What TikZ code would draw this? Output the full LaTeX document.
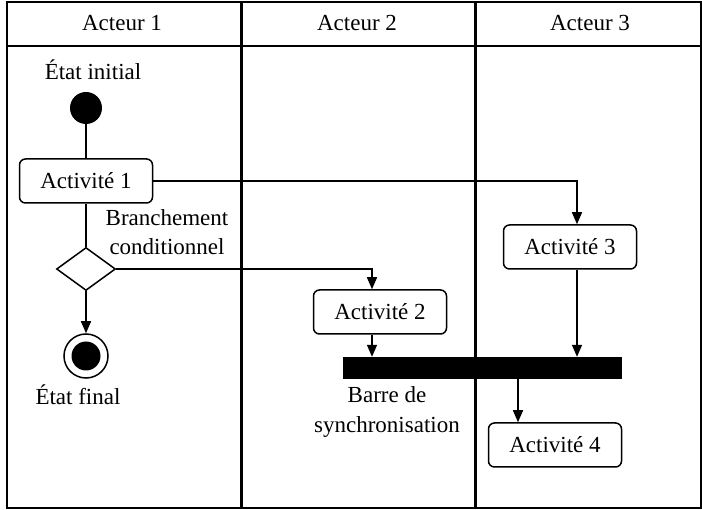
\documentclass[tikz,border=0pt]{standalone}
\usepackage{fontspec}
\setmainfont{Liberation Serif}
\usetikzlibrary{arrows.meta,shapes.geometric}
\begin{document}
\begin{tikzpicture}[
    x=1pt,
    y=-1pt,
    >={Triangle[length=12pt,width=10pt]},
    font=\fontsize{23}{29}\selectfont,
    activite/.style={draw,line width=1.5pt,rounded corners=6pt,
        minimum width=133pt,minimum height=44pt,inner sep=0pt},
    fleche/.style={line width=1.5pt,->},
    lien/.style={line width=1.5pt},
    couloir/.style={line width=3pt},
    cadre/.style={line width=2pt}
]
    \useasboundingbox (0,0) rectangle (702,510);

    % couloirs
    \draw[cadre] (7,2) rectangle (700.5,508);
    \draw[line width=1.5pt] (7,46) -- (700.5,46);
    \draw[couloir] (241,2) -- (241,508);
    \draw[couloir] (475,2) -- (475,508);
    \node (acteur1) at (122,23) {Acteur 1};
    \node (acteur2) at (357,23) {Acteur 2};
    \node (acteur3) at (590,23) {Acteur 3};

    % noeuds
    \node (lbinit) at (93,70) {État initial};
    \node[circle,fill=black,minimum size=32pt,inner sep=0pt] (init) at (86,108) {};
    \node[activite] (act1) at (86,181) {Activité 1};
    \node[draw,diamond,line width=1.5pt,minimum width=59pt,minimum height=43pt,
        inner sep=0pt] (branche) at (86,269) {};
    \node[align=center] (lbbranche) at (167,232) {Branchement\\conditionnel};
    \node[circle,draw,line width=1.5pt,minimum size=44pt,inner sep=0pt,
        path picture={\fill (path picture bounding box.center) circle (14.5);}]
        (fin) at (86,356) {};
    \node (lbfin) at (78,395) {État final};
    \node[activite] (act2) at (380,312) {Activité 2};
    \node[activite] (act3) at (570,247) {Activité 3};
    \node[fill=black,minimum width=279pt,minimum height=22pt,inner sep=0pt]
        (barre) at (482.5,368) {};
    \node[align=center,font=\fontsize{23}{30}\selectfont] (lbbarre) at (387,412)
        {Barre de\\synchronisation};
    \node[activite] (act4) at (555,445) {Activité 4};

    % transitions
    \draw[lien] (init) -- (act1);
    \draw[lien] (act1) -- (branche);
    \draw[fleche] (branche) -- (fin);
    \draw[fleche] (act1.east) -| ([xshift=7pt]act3.north);
    \draw[fleche] (branche.east) -| ([xshift=-8pt]act2.north);
    \draw[fleche] ([xshift=-8pt]act2.south) -- ([xshift=-8pt]act2.south |- barre.north);
    \draw[fleche] ([xshift=7pt]act3.south) -- ([xshift=7pt]act3.south |- barre.north);
    \coordinate (b4) at ([xshift=35.5pt]barre.south);
    \draw[fleche] (b4) -- (b4 |- act4.north);
\end{tikzpicture}
\end{document}
